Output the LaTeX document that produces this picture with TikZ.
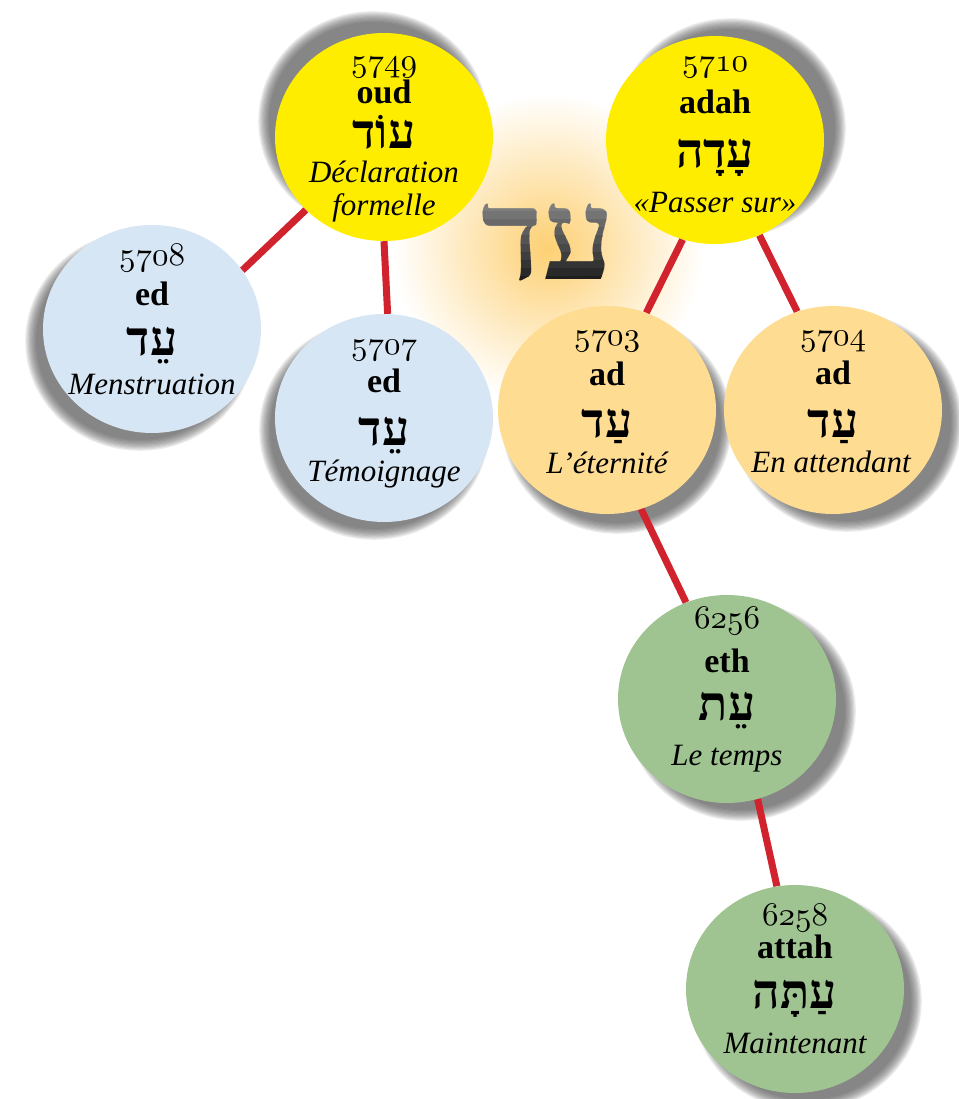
\documentclass[tikz,border=0pt]{standalone}
\usepackage{fontspec}
\setmainfont{Liberation Serif}
\newfontfamily\hebfont[Script=Hebrew]{Liberation Serif}
\TeXXeTstate=1
\usetikzlibrary{shapes.geometric}
\pgfdeclarelayer{shadowlayer}
\pgfdeclarelayer{linelayer}
\pgfsetlayers{shadowlayer,linelayer,main}
\definecolor{cyellow}{RGB}{255,237,0}
\definecolor{cblue}{RGB}{215,230,244}
\definecolor{corange}{RGB}{254,220,145}
\definecolor{cgreen}{RGB}{160,196,145}
\definecolor{cred}{RGB}{208,35,45}
\definecolor{cshadow}{RGB}{85,85,85}
\definecolor{cglow}{RGB}{253,208,115}
\DeclareFontFamily{OML}{myosn}{}
\DeclareFontShape{OML}{myosn}{m}{it}{<-> cmmi10}{}
\newcommand\osn[1]{{\usefont{OML}{myosn}{m}{it}#1}}
\newcommand\softshadow[2]{%
  \foreach \k in {0,...,9}{%
    \fill[cshadow, opacity=0.11] (#1,#2) ellipse [x radius=104+1.2*\k, y radius=99+1.2*\k];
  }}
\tikzset{
  bubble/.style={ellipse, minimum width=218pt, minimum height=208pt, inner sep=0pt},
  numtxt/.style={anchor=base, inner sep=0pt, font=\fontsize{33}{36}\selectfont},
  trtxt/.style={anchor=base, inner sep=0pt, font=\fontsize{34}{36}\selectfont\bfseries},
  hebtxt/.style={anchor=base, inner sep=0pt, font=\fontsize{48}{50}\selectfont\hebfont\bfseries},
  meantxt/.style={anchor=base, inner sep=0pt, font=\fontsize{31}{34}\selectfont\itshape},
  bigheb/.style={anchor=base, inner sep=0pt, font=\fontsize{128}{132}\selectfont\hebfont\bfseries},
  link/.style={draw=cred, line width=7pt},
}
\begin{document}
\begin{tikzpicture}[x=1pt,y=-1pt]
\useasboundingbox (0,0) rectangle (958,1099);

% bubbles
\node[bubble, fill=cyellow] (n5749) at (384,137) {};
\node[bubble, fill=cyellow] (n5710) at (715,140) {};
\node[bubble, fill=cblue]   (n5708) at (152,329) {};
\node[bubble, fill=cblue]   (n5707) at (384,418) {};
\node[bubble, fill=corange] (n5703) at (607,410) {};
\node[bubble, fill=corange] (n5704) at (833,410) {};
\node[bubble, fill=cgreen]  (n6256) at (727,699) {};
\node[bubble, fill=cgreen]  (n6258) at (795,989) {};

\begin{pgfonlayer}{shadowlayer}
  \fill[white] (0,0) rectangle (958,1099);
  \shade[inner color=cglow, outer color=white] (548,248) circle [radius=155];
  \softshadow{373}{121}
  \softshadow{731}{128}
  \softshadow{140}{341}
  \softshadow{374}{430}
  \softshadow{617}{424}
  \softshadow{847}{422}
  \softshadow{741}{711}
  \softshadow{807}{1001}
\end{pgfonlayer}

\begin{pgfonlayer}{linelayer}
  \path[link] (n5749.223) -- (n5708.33.5);
  \path[link] (n5749.270) -- (n5707.88);
  \path[link] (n5710.252) -- (n5703.68);
  \path[link] (n5710.295) -- (n5704.110);
  \path[link] (n5703.289) -- (n6256.113.5);
  \path[link] (n6256.287) -- (n6258.100);
\end{pgfonlayer}

% central root letters, shaded light (top) to dark (bottom) in bands
\foreach \i in {0,...,13}{%
  \pgfmathsetmacro\g{42+\i*4.2}%
  \begin{scope}
    \clip (430,{188+\i*8}) rectangle (670,{188+(\i+1)*8+0.6});
    \node[bigheb, text=black!\g] (rootband\i) at (548,279) {\beginR עד\endR};
  \end{scope}
}

% 5749
\node[numtxt]  (t5749a) at (384,72)  {\osn{5749}};
\node[trtxt]   (t5749b) at (384,104) {oud};
\node[hebtxt]  (t5749c) at (384,149) {\beginR עוֹד\endR};
\node[meantxt] (t5749d) at (384,183) {Déclaration};
\node[meantxt] (t5749e) at (384,216) {formelle};
% 5710
\node[numtxt]  (t5710a) at (715,72)  {\osn{5710}};
\node[trtxt]   (t5710b) at (715,114) {adah};
\node[hebtxt]  (t5710c) at (715,168) {\beginR עָדָה\endR};
\node[meantxt] (t5710d) at (715,213) {«Passer sur»};
% 5708
\node[numtxt]  (t5708a) at (152,265) {\osn{5708}};
\node[trtxt]   (t5708b) at (152,305) {ed};
\node[hebtxt]  (t5708c) at (152,355) {\beginR עֵד\endR};
\node[meantxt] (t5708d) at (152,394) {Menstruation};
% 5707
\node[numtxt]  (t5707a) at (384,354) {\osn{5707}};
\node[trtxt]   (t5707b) at (384,392) {ed};
\node[hebtxt]  (t5707c) at (384,445) {\beginR עֵד\endR};
\node[meantxt] (t5707d) at (384,481) {Témoignage};
% 5703
\node[numtxt]  (t5703a) at (607,345) {\osn{5703}};
\node[trtxt]   (t5703b) at (607,385) {ad};
\node[hebtxt]  (t5703c) at (607,437) {\beginR עַד\endR};
\node[meantxt] (t5703d) at (607,473) {L’éternité};
% 5704
\node[numtxt]  (t5704a) at (833,345) {\osn{5704}};
\node[trtxt]   (t5704b) at (833,384) {ad};
\node[hebtxt]  (t5704c) at (833,437) {\beginR עַד\endR};
\node[meantxt] (t5704d) at (831,472) {En attendant};
% 6256
\node[numtxt]  (t6256a) at (727,628) {\osn{6256}};
\node[trtxt]   (t6256b) at (727,672) {eth};
\node[hebtxt]  (t6256c) at (727,720) {\beginR עֵת\endR};
\node[meantxt] (t6256d) at (727,765) {Le temps};
% 6258
\node[numtxt]  (t6258a) at (795,925) {\osn{6258}};
\node[trtxt]   (t6258b) at (795,958) {attah};
\node[hebtxt]  (t6258c) at (795,1008) {\beginR עַתָּה\endR};
\node[meantxt] (t6258d) at (795,1053) {Maintenant};
\end{tikzpicture}
\end{document}
